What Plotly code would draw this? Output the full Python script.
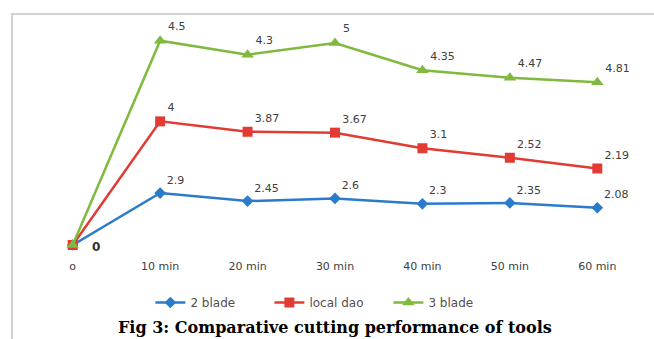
import plotly.graph_objects as go

categories = ["o", "10 min", "20 min", "30 min", "40 min", "50 min", "60 min"]
blade2 = [0, 2.9, 2.45, 2.6, 2.3, 2.35, 2.08]
local_dao = [0, 4, 3.87, 3.67, 3.1, 2.52, 2.19]
blade3 = [0, 4.5, 4.3, 5, 4.35, 4.47, 4.81]

series = [
    ("2 blade", blade2, "#2a7bcc", "diamond", 9),
    ("local dao", local_dao, "#e23b33", "square", 10),
    ("3 blade", blade3, "#7fba3e", "triangle-up", 11),
]

fig = go.Figure()
for name, vals, color, sym, msize in series:
    texts = [("" if i == 0 else f"{v:g}") for i, v in enumerate(vals)]
    fig.add_trace(go.Scatter(
        x=categories, y=vals, name=name, stackgroup="one", fill="none",
        mode="lines+markers+text",
        line=dict(color=color, width=2.5),
        marker=dict(symbol=sym, size=msize, color=color),
        text=texts, textposition="top right",
        textfont=dict(family="DejaVu Sans", size=11, color="#404040"),
        cliponaxis=False,
    ))

fig.update_layout(
    width=654, height=339,
    margin=dict(l=29, r=13, t=30, b=94),
    paper_bgcolor="white", plot_bgcolor="white",
    showlegend=True,
    legend=dict(orientation="h", x=0.49, xanchor="center", y=-0.2, yanchor="top",
                font=dict(family="DejaVu Sans", size=12, color="#505050"),
                entrywidth=74, traceorder="normal"),
    xaxis=dict(type="category", range=[-0.5, 6.5], showgrid=False, showline=False, zeroline=False,
               tickfont=dict(family="DejaVu Sans", size=11, color="#404040"),
               ticklabelstandoff=13, fixedrange=True),
    yaxis=dict(range=[0, 12], visible=False, fixedrange=True),
    shapes=[dict(type="rect", xref="paper", yref="paper",
                 x0=-0.0278, x1=1.2, y0=-0.6, y1=1.0744,
                 line=dict(color="#d2d2d2", width=2), layer="below")],
)

# zero label at the common origin point
fig.add_annotation(x=categories[0], y=blade2[0], text="<b>0</b>", showarrow=False,
                   xshift=23, yshift=-2,
                   font=dict(family="DejaVu Sans", size=12, color="#303030"))

fig.add_annotation(text="<b>Fig 3: Comparative cutting performance of tools</b>",
                   xref="paper", yref="paper", x=0.5, y=-0.385,
                   xanchor="center", yanchor="middle", showarrow=False,
                   font=dict(family="DejaVu Serif", size=16, color="black"))

fig.write_html("out.html")
